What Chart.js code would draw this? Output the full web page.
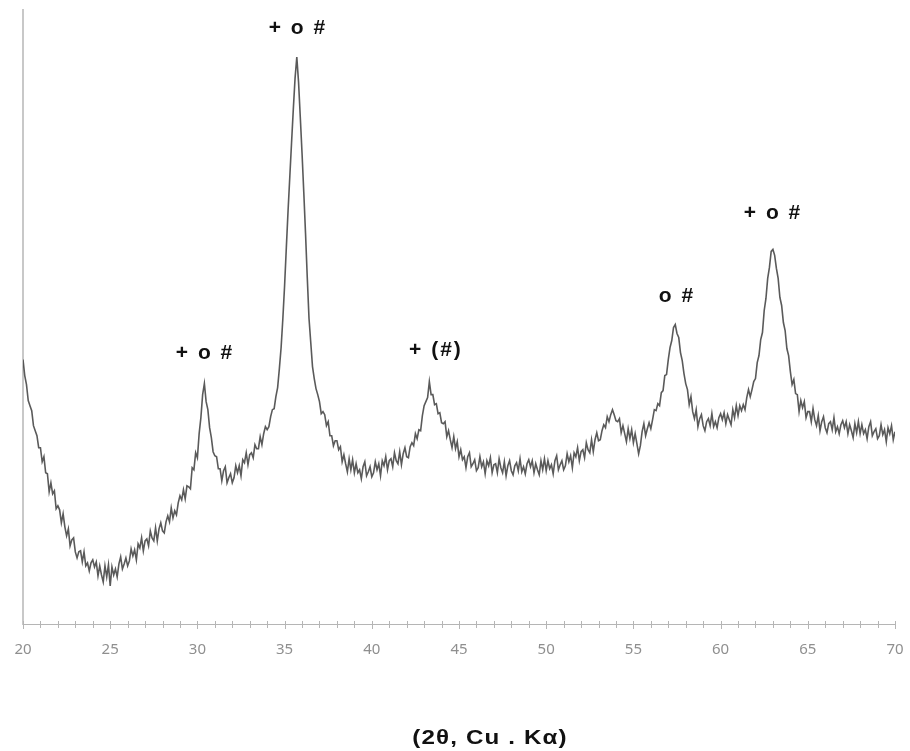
<!DOCTYPE html>
<html>
<head>
<meta charset="utf-8">
<script src="https://cdn.jsdelivr.net/npm/chart.js@4.4.1/dist/chart.umd.min.js"></script>
<style>
  html, body { margin: 0; padding: 0; background: #ffffff; }
  #wrap { position: relative; width: 910px; height: 751px; }
</style>
</head>
<body>
<div id="wrap"><canvas id="c" width="910" height="751"></canvas></div>
<script>
const startAngle = 20;      // first 2θ sample (degrees)
const stepAngle = 0.1;      // sampling step (degrees)
const intensity = [
  264, 248, 239, 223, 218, 213, 198, 193, 188, 176, 176,
  162, 167, 151, 150, 132, 141, 130, 133, 115, 118,
  114, 101, 110, 97, 88, 95, 78, 84, 86, 72,
  66, 72, 73, 62, 72, 58, 61, 53, 61, 64,
  57, 62, 48, 58, 49, 42, 58, 47, 59, 38,
  57, 49, 55, 47, 60, 67, 55, 60, 66, 58,
  63, 75, 68, 74, 64, 80, 76, 86, 73, 83,
  85, 78, 93, 86, 83, 96, 83, 95, 101, 93,
  91, 102, 108, 102, 116, 106, 113, 109, 121, 128,
  124, 134, 125, 138, 137, 135, 156, 154, 171, 166,
  190, 206, 229, 240, 222, 214, 196, 186, 172, 168,
  167, 155, 155, 143, 153, 157, 141, 146, 150, 141,
  146, 158, 151, 158, 148, 164, 161, 171, 159, 169,
  171, 166, 179, 175, 175, 187, 179, 190, 197, 194,
  197, 207, 214, 215, 227, 236, 255, 276, 305, 338,
  376, 413, 447, 481, 514, 545, 566, 541, 506, 470,
  431, 390, 346, 305, 281, 257, 245, 235, 229, 222,
  210, 212, 209, 198, 202, 188, 188, 178, 183, 183,
  174, 177, 162, 169, 160, 152, 165, 154, 164, 151,
  160, 151, 154, 145, 157, 162, 148, 152, 157, 147,
  151, 162, 154, 160, 148, 163, 158, 167, 154, 163,
  165, 157, 171, 163, 160, 172, 159, 170, 176, 167,
  166, 177, 181, 178, 190, 185, 194, 193, 208, 218,
  222, 226, 242, 229, 229, 219, 220, 210, 211, 201,
  200, 202, 187, 193, 184, 176, 187, 175, 182, 167,
  174, 164, 167, 156, 167, 171, 157, 160, 164, 153,
  156, 167, 157, 162, 150, 163, 158, 166, 151, 159,
  160, 151, 165, 156, 151, 162, 148, 158, 163, 153,
  149, 158, 161, 153, 165, 152, 157, 150, 160, 164,
  157, 163, 151, 160, 154, 149, 163, 154, 165, 153,
  163, 155, 159, 150, 163, 168, 154, 159, 163, 154,
  158, 170, 162, 168, 156, 171, 167, 176, 163, 172,
  174, 166, 181, 174, 171, 184, 172, 184, 191, 183,
  184, 193, 199, 196, 207, 202, 209, 214, 209, 203,
  202, 205, 191, 198, 190, 182, 195, 185, 194, 181,
  190, 180, 170, 178, 192, 200, 188, 195, 201, 195,
  204, 214, 213, 220, 218, 231, 233, 248, 249, 264,
  276, 283, 296, 299, 290, 286, 271, 263, 250, 240,
  234, 219, 227, 212, 205, 214, 197, 205, 209, 198,
  193, 202, 205, 198, 210, 197, 202, 196, 206, 210,
  204, 211, 200, 209, 204, 199, 214, 206, 218, 208,
  218, 213, 219, 214, 226, 234, 227, 234, 242, 245,
  261, 268, 284, 291, 313, 325, 345, 356, 372, 374,
  368, 355, 345, 326, 318, 301, 293, 275, 268, 252,
  239, 244, 230, 229, 212, 223, 216, 222, 206, 212,
  212, 202, 215, 204, 198, 208, 193, 202, 207, 196,
  191, 200, 202, 194, 206, 192, 197, 190, 199, 203,
  196, 202, 190, 199, 193, 186, 200, 191, 202, 190,
  199, 190, 194, 185, 197, 202, 188, 192, 195, 185,
  188, 199, 189, 194, 182, 196, 190, 198, 184, 192
];
// peak annotations: text, 2θ position, intensity level of the label
const peakLabelText = ["+ o #", "+ o #", "+ (#)", "o #", "+ o #"];
const peakLabelAngle = [30.38, 35.71, 43.62, 57.44, 62.95];
const peakLabelLevel = [270, 595, 273, 327, 410];
const xTickLabels = [20, 25, 30, 35, 40, 45, 50, 55, 60, 65, 70];
const xAxisTitle = "(2θ, Cu . Kα)";

// ---- chart ----
const points = intensity.map((v, i) => ({ x: startAngle + i * stepAngle, y: v }));

const decorPlugin = {
  id: 'decor',
  afterDraw(chart) {
    const ctx = chart.ctx;
    const xs = chart.scales.x, ys = chart.scales.y;
    // small tick marks crossing the axis line
    ctx.save();
    ctx.strokeStyle = '#b5b5b5';
    ctx.lineWidth = 1;
    const axisY = chart.chartArea.bottom;
    xs.ticks.forEach(t => {
      const px = Math.round(xs.getPixelForValue(t.value)) + 0.5;
      const major = xTickLabels.includes(t.value);
      ctx.beginPath();
      ctx.moveTo(px, axisY - 3);
      ctx.lineTo(px, axisY + (major ? 5 : 4));
      ctx.stroke();
    });
    ctx.restore();
    // peak labels
    ctx.save();
    ctx.fillStyle = '#111';
    ctx.font = 'bold 21px "Liberation Sans", Arial, sans-serif';
    ctx.textAlign = 'center';
    ctx.textBaseline = 'middle';
    try { ctx.letterSpacing = '2px'; } catch (e) {}
    peakLabelText.forEach((txt, i) => {
      const px = xs.getPixelForValue(peakLabelAngle[i]);
      const py = ys.getPixelForValue(peakLabelLevel[i]);
      ctx.fillText(txt, px + 1, py);
    });
    ctx.restore();
    // x-axis caption (separate text box under the axis), slightly wide glyphs
    ctx.save();
    ctx.fillStyle = '#111';
    ctx.font = 'bold 21px "Liberation Sans", Arial, sans-serif';
    ctx.textAlign = 'center';
    ctx.textBaseline = 'middle';
    try { ctx.letterSpacing = '1px'; } catch (e) {}
    ctx.translate(490, 738);
    ctx.scale(1.15, 1);
    ctx.fillText(xAxisTitle, 0, 0);
    ctx.restore();
  }
};

new Chart(document.getElementById('c'), {
  type: 'line',
  data: {
    datasets: [{
      data: points,
      borderColor: 'rgba(72,72,72,0.9)',
      borderWidth: 1.6,
      pointRadius: 0,
      tension: 0,
      fill: false
    }]
  },
  options: {
    responsive: false,
    animation: false,
    devicePixelRatio: 1,
    layout: { padding: { left: 23, right: 15, top: 10, bottom: 92 } },
    plugins: { legend: { display: false }, tooltip: { enabled: false } },
    scales: {
      x: {
        type: 'linear',
        min: 20,
        max: 70,
        border: { display: true, color: '#b5b5b5', width: 1 },
        grid: { display: true, drawOnChartArea: false, drawTicks: true, tickLength: 17, tickColor: 'rgba(0,0,0,0)' },
        ticks: {
          stepSize: 1,
          autoSkip: false,
          maxRotation: 0,
          padding: 0,
          color: '#8f8f8f',
          font: { family: '"Noto Sans", "Open Sans", sans-serif', size: 15 },
          callback: (v) => xTickLabels.includes(v) ? String(v) : ''
        },
        title: { display: false }
      },
      y: {
        min: 0,
        max: 613,
        border: { display: true, color: '#c8c8c8', width: 2 },
        grid: { display: true, drawOnChartArea: false, drawTicks: false },
        ticks: { display: false }
      }
    }
  },
  plugins: [decorPlugin]
});
</script>
</body>
</html>
